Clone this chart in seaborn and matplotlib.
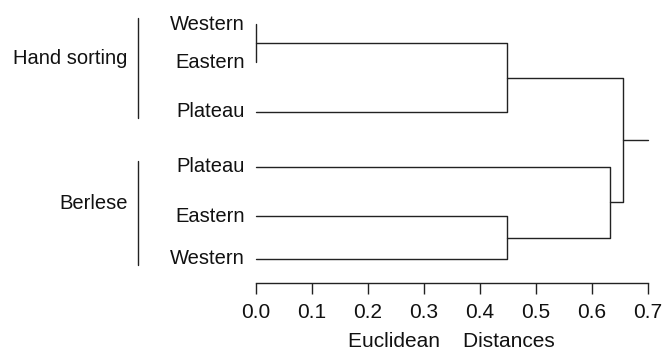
import numpy as np
import pandas as pd
import matplotlib
matplotlib.use("Agg")
import matplotlib.pyplot as plt
import seaborn as sns

# leaves top to bottom and their row positions
leaf_labels = ["Western", "Eastern", "Plateau", "Plateau", "Eastern", "Western"]
leaf_pos = [0.0, 0.81, 1.87, 3.04, 4.09, 5.0]
groups = ["Hand sorting", "Berlese"]
group_leaves = [[0, 1, 2], [3, 4, 5]]
# merges: (child a, child b, distance); new nodes get ids 6, 7, ...
merges = [(0, 1, 0.0), (6, 2, 0.448), (4, 5, 0.448), (3, 8, 0.633), (7, 9, 0.655)]
root_end = 0.7
ticks = [0.0, 0.1, 0.2, 0.3, 0.4, 0.5, 0.6, 0.7]

sns.set_theme(style="white")
plt.rcParams['font.family'] = ['Liberation Sans', 'DejaVu Sans']

# build the dendrogram segments
node_x = {i: 0.0 for i in range(len(leaf_pos))}
node_y = {i: p for i, p in enumerate(leaf_pos)}
rows = []
seg = 0
for k, (a, b, d) in enumerate(merges):
    nid = len(leaf_pos) + k
    for xx, yy in [(node_x[a], node_y[a]), (d, node_y[a]), (d, node_y[b]), (node_x[b], node_y[b])]:
        rows.append({"x": xx, "y": yy, "seg": seg})
    seg += 1
    node_x[nid] = d
    node_y[nid] = (node_y[a] + node_y[b]) / 2
root = len(leaf_pos) + len(merges) - 1
rows.append({"x": node_x[root], "y": node_y[root], "seg": seg})
rows.append({"x": root_end, "y": node_y[root], "seg": seg})
df = pd.DataFrame(rows)

fig = plt.figure(figsize=(6.64, 3.52), dpi=100)
ax = fig.add_axes([256 / 664, 0.195, (647.7 - 256) / 664, 0.9716 - 0.195])
sns.lineplot(data=df, x="x", y="y", units="seg", estimator=None, sort=False,
             color="#222222", linewidth=1.0, ax=ax)
for l in ax.lines:
    l.set_clip_on(False)

ax.set_xlim(0, 0.7)
ax.set_ylim(5.52, -0.3)
ax.set_yticks([])
ax.set_ylabel("")
for s in ["left", "top", "right"]:
    ax.spines[s].set_visible(False)
ax.spines["bottom"].set_bounds(0, 0.7)
ax.spines["bottom"].set_color("#222222")
ax.spines["bottom"].set_linewidth(1.0)
ax.set_xticks(ticks)
ax.set_xticklabels([f"{t:.1f}" for t in ticks])
ax.tick_params(axis="x", bottom=True, direction="out", length=7.7, width=1.0,
               color="#222222", pad=6.5, labelsize=15, labelcolor="#111111")
ax.set_xlabel("Euclidean    Distances", fontsize=15, color="#111111", labelpad=7)

# leaf labels
for lab, p in zip(leaf_labels, leaf_pos):
    ax.text(-0.02, p, lab, ha="right", va="center", fontsize=14.5, color="#111111")

# group brackets and labels
for g, idx in zip(groups, group_leaves):
    top = leaf_pos[idx[0]] - 0.13
    bot = leaf_pos[idx[-1]] + 0.13
    ax.plot([-0.211, -0.211], [top, bot], color="#222222", lw=1.0, clip_on=False)
    mid = (leaf_pos[idx[0]] + leaf_pos[idx[-1]]) / 2 - 0.2
    ax.text(-0.229, mid, g, ha="right", va="center", fontsize=14.5, color="#111111")

fig.savefig("out.png", dpi=100)
